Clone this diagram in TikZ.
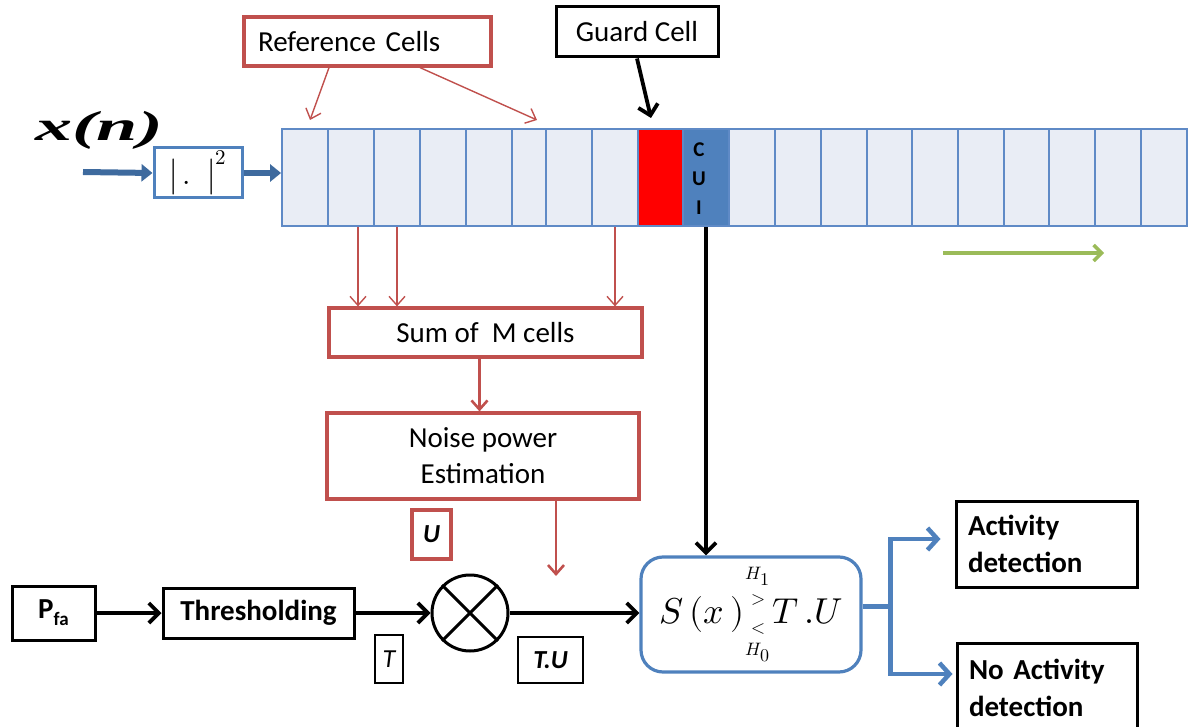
\documentclass[tikz,border=0pt]{standalone}
\usepackage{fontspec}
\usepackage{unicode-math}
\setmathfont{Latin Modern Math}
\usepackage{graphicx}
\setmainfont{Carlito}
\newfontfamily\tnr{Liberation Serif}
\usetikzlibrary{arrows.meta,calc}
\definecolor{redb}{HTML}{C0504D}
\definecolor{blueb}{HTML}{4F81BD}
\definecolor{cellf}{HTML}{E9EDF5}
\definecolor{cellb}{HTML}{5F8AC6}
\definecolor{greenA}{HTML}{9BBB59}
\definecolor{darkblue}{HTML}{3E6A9E}
\newcommand\stk[1]{\hbox to 16pt{\hss$\scriptscriptstyle #1$\hss}}
\tikzset{
  txt/.style={font=\fontsize{29}{36}\selectfont},
  btxt/.style={font=\bfseries\fontsize{29}{37}\selectfont},
  rbox/.style={draw=redb, line width=3.2pt, inner sep=0pt, txt},
  kbox/.style={draw=black, line width=3pt, inner sep=0pt},
  rarr/.style={draw=redb, line width=1.4pt, -{Straight Barb[length=9pt,width=16pt]}},
  karr/.style={draw=black, line width=3.8pt, -{Straight Barb[length=10pt,width=20pt]}},
  barr/.style={draw=blueb, line width=4.5pt, -{Straight Barb[length=10pt,width=22pt]}},
  cell/.style={draw=cellb, line width=1.8pt, inner sep=0pt, minimum height=97pt},
}
\begin{document}
\begin{tikzpicture}[x=1pt,y=-1pt]
\useasboundingbox (0,0) rectangle (1189,727);

% top boxes
\node[rbox, minimum width=247pt, minimum height=49pt, text width=219pt, inner xsep=14pt, align=left] (refbox) at (367.5,41.5) {Reference Cells};
\node[kbox, txt, minimum width=162pt, minimum height=50pt] (guard) at (637,32) {Guard Cell};

% input
\node (xn) at (99,130) {\scalebox{1.85}[1.05]{\tnr\bfseries\itshape\fontsize{40}{40}\selectfont x(n)}};
\node[draw=blueb, line width=3pt, minimum width=88pt, minimum height=50pt, inner sep=0pt] (sq) at (198,173) {\fontsize{30}{30}\selectfont$\bigl|\,.\;\;\bigr|^{2}$};

% cells
\foreach \a/\b/\f [count=\i] in {282/328/cellf,328/374/cellf,374/420/cellf,420/466/cellf,466/512/cellf,512/546/cellf,546/592/cellf,592/638/cellf,638/683/red,683/729/blueb,729/775/cellf,775/821/cellf,821/867/cellf,867/912/cellf,912/958/cellf,958/1004/cellf,1004/1049/cellf,1049/1095/cellf,1095/1141/cellf,1141/1187/cellf}{
  \pgfmathsetmacro\w{\b-\a}
  \pgfmathsetmacro\m{(\a+\b)/2}
  \node[cell, fill=\f, minimum width=\w pt] (c\i) at (\m,177.5) {};
}
\node[font=\bfseries\fontsize{21}{29}\selectfont, align=center] (cui) at (699,179) {C\\U\\I};

% input arrows
\coordinate (in) at (83,172);
\draw[darkblue, line width=6pt, -{Triangle[length=11pt,width=17pt]}] (in) -- (sq.west);
\draw[darkblue, line width=6pt, -{Triangle[length=11pt,width=17pt]}] (sq.east) -- (sq.east -| c1.west);

% reference / guard arrows
\coordinate (r1) at (310,120);
\coordinate (r2) at (537,120);
\coordinate (ga) at (651,118);
\draw[rarr] ([xshift=-38.5pt]refbox.south) -- (r1);
\draw[rarr] ([xshift=52.5pt]refbox.south) -- (r2);
\draw[karr] (guard.south) -- (ga);

% green arrow
\coordinate (g1) at (943,253);
\coordinate (g2) at (1104,253);
\draw[greenA, line width=3.5pt, -{Straight Barb[length=8pt,width=16pt]}] (g1) -- (g2);

% sum and noise
\node[rbox, minimum width=313pt, minimum height=49pt] (sum) at (485.5,332.5) {Sum of\ \ M cells};
\node[rbox, minimum width=312pt, minimum height=86pt, align=center] (noise) at (483,456) {Noise power\\Estimation};
\node[rbox, minimum width=39pt, minimum height=49pt, font=\bfseries\itshape\fontsize{26}{30}\selectfont] (ubox) at (431.5,534.5) {U};

\draw[rarr] ([xshift=7pt]c2.south) -- ([xshift=7pt]c2.south |- sum.north);
\draw[rarr] (c3.south) -- (c3.south |- sum.north);
\draw[rarr] (c8.south) -- (c8.south |- sum.north);
\draw[rarr, line width=2.6pt] ([xshift=-6pt]sum.south) -- ([xshift=-6pt]sum.south |- noise.north);
\coordinate (nend) at (556,576);
\draw[rarr, line width=2.6pt] (noise.south -| nend) -- (nend);

% bottom chain
\node[kbox, minimum width=83pt, minimum height=54pt, btxt] (pfa) at (53.5,613) {P\raisebox{-7pt}{\fontsize{19}{19}\selectfont fa}};
\node[kbox, minimum width=191pt, minimum height=50pt, btxt] (thr) at (258.5,613) {Thresholding};
\node[circle, draw=black, line width=3pt, minimum size=76pt, inner sep=0pt] (mult) at (470,613) {};
\draw[line width=3pt] (mult.north west) -- (mult.south east) (mult.north east) -- (mult.south west);
\node[kbox, line width=2.4pt, minimum width=28pt, minimum height=48pt, font=\itshape\fontsize{26}{30}\selectfont] (tbox) at (389,659) {T};
\node[kbox, line width=2.4pt, minimum width=65pt, minimum height=46pt, font=\bfseries\itshape\fontsize{26}{30}\selectfont] (tubox) at (550.5,660) {T.U};

\node[draw=blueb, line width=3.2pt, rounded corners=22pt, minimum width=220pt, minimum height=115pt, inner sep=0pt] (dec) at (751,614.5)
  {\fontsize{36}{40}\selectfont$S\,(x\,)\mathop{\vcenter{\offinterlineskip\stk{H_1}\kern9pt\stk{>}\kern18pt\stk{<}\kern9pt\stk{H_0}}}T\,.U$};

\draw[karr] (pfa.east) -- (thr.west);
\draw[karr] (thr.east) -- (mult.west);
\draw[karr] (mult.east) -- (mult.east -| dec.west);
\draw[karr] (c10.south) -- (c10.south |- dec.north);

% outputs
\node[kbox, btxt, minimum width=181pt, minimum height=86pt, text width=157pt, inner xsep=12pt, align=left] (act) at (1046.5,544) {Activity\\detection};
\node[kbox, btxt, minimum width=180pt, minimum height=90pt, text width=156pt, inner xsep=12pt, align=left] (noact) at (1047,688) {No Activity\\detection};
\coordinate (j) at ($(dec.east)+(28,-8)$);
\draw[blueb, line width=4.5pt] ($(dec.east)+(0,-8)$) -- (j);
\draw[barr] (j) |- ($(act.west)+(-14,-5)$);
\draw[barr] (j) |- ($(noact.west)+(-3,-14)$);
\end{tikzpicture}
\end{document}
